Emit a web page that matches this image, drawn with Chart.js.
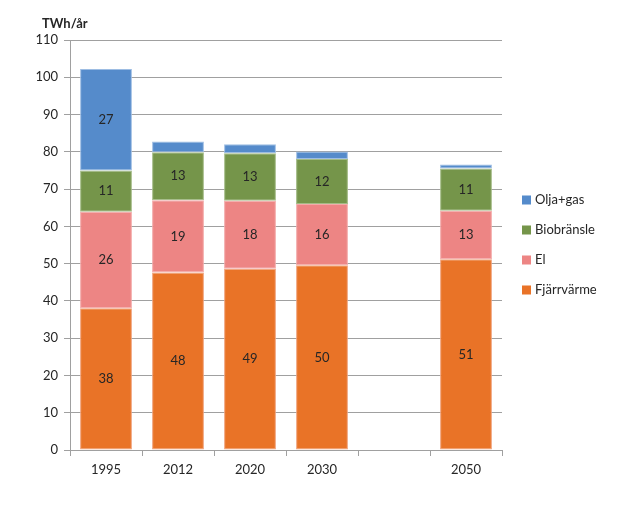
<!DOCTYPE html>
<html>
<head>
<meta charset="utf-8">
<script src="https://cdn.jsdelivr.net/npm/chart.js@4/dist/chart.umd.min.js"></script>
<style>
  html, body { margin: 0; padding: 0; background: #fff; }
  #wrap { width: 630px; height: 506px; }
</style>
</head>
<body>
<div id="wrap"><canvas id="chart" width="630" height="506"></canvas></div>
<script>
const years = ["1995", "2012", "2020", "2030", "", "2050"]
const fjarrvarme = [38.0, 47.6, 48.6, 49.6, null, 51.2]
const el = [25.9, 19.4, 18.3, 16.4, null, 13.0]
const biobransle = [11.1, 12.9, 12.7, 12.1, null, 11.3]
const oljaGas = [27.2, 2.9, 2.4, 2.0, null, 1.1]
const yTicks = { min: 0, max: 110, step: 10 }

const FONT = "Lato, 'Open Sans', sans-serif"
const AXIS_GREY = "#a0a0a0"

function whiteBackgroundPlugin() {
    return {
        id: "whiteBackground",
        beforeDraw: (chart) => {
            const { ctx, canvas } = chart
            ctx.save()
            ctx.globalCompositeOperation = "destination-over"
            ctx.fillStyle = "white"
            ctx.fillRect(0, 0, canvas.width, canvas.height)
            ctx.restore()
        }
    }
}

// numbers inside the segments, only where there is room
function segmentLabelsPlugin() {
    return {
        id: "segmentLabels",
        afterDatasetsDraw: (chart) => {
            const { ctx } = chart
            ctx.save()
            ctx.font = "13px " + FONT
            ctx.fillStyle = "#262626"
            ctx.textAlign = "center"
            ctx.textBaseline = "middle"
            chart.data.datasets.forEach((ds, i) => {
                const meta = chart.getDatasetMeta(i)
                meta.data.forEach((bar, j) => {
                    const v = ds.data[j]
                    if (v == null || v < 5) return
                    ctx.fillText(String(Math.round(v)), bar.x, (bar.y + bar.base) / 2)
                })
            })
            ctx.restore()
        }
    }
}

// unit text above the y axis + legend on the right (reversed like the stack)
function titleAndLegendPlugin() {
    return {
        id: "titleAndLegend",
        afterDraw: (chart) => {
            const { ctx, chartArea } = chart
            ctx.save()
            ctx.font = "bold 13px " + FONT
            ctx.fillStyle = "#262626"
            ctx.textBaseline = "middle"
            ctx.textAlign = "left"
            ctx.fillText("TWh/år", 42, 24)

            const items = chart.data.datasets.slice().reverse()
            const mid = (chartArea.top + chartArea.bottom) / 2
            const gap = 30
            const top = mid - gap * (items.length - 1) / 2
            ctx.font = "13px " + FONT
            items.forEach((ds, k) => {
                const y = top + k * gap
                ctx.fillStyle = ds.backgroundColor
                ctx.fillRect(522, y - 4.5, 9, 9)
                ctx.fillStyle = "#262626"
                ctx.fillText(ds.label, 535, y)
            })
            ctx.restore()
        }
    }
}

const barStyle = { barPercentage: 0.72, categoryPercentage: 1, borderWidth: 1, borderSkipped: false }

new Chart(document.getElementById("chart").getContext("2d"), {
    type: "bar",
    data: {
        labels: years,
        datasets: [
            { label: "Fjärrvärme", data: fjarrvarme, backgroundColor: "#e97327", borderColor: "#f0a07a", ...barStyle },
            { label: "El", data: el, backgroundColor: "#ed8584", borderColor: "#f3a9a8", ...barStyle },
            { label: "Biobränsle", data: biobransle, backgroundColor: "#75954a", borderColor: "#a3bb85", ...barStyle },
            { label: "Olja+gas", data: oljaGas, backgroundColor: "#558bcb", borderColor: "#9dbde3", ...barStyle }
        ]
    },
    options: {
        responsive: false,
        animation: false,
        layout: { padding: { top: 40, right: 128, left: 0, bottom: 0 } },
        plugins: {
            legend: { display: false },
            tooltip: { enabled: false }
        },
        scales: {
            x: {
                stacked: true,
                grid: {
                    offset: true,
                    drawOnChartArea: false,
                    drawTicks: true,
                    tickLength: 6,
                    color: AXIS_GREY
                },
                border: { color: AXIS_GREY },
                ticks: { color: "#262626", font: { family: FONT, size: 13 }, padding: 6, maxRotation: 0 },
                afterFit: (scale) => { scale.height = 56 }
            },
            y: {
                stacked: true,
                min: yTicks.min,
                max: yTicks.max,
                grid: { color: AXIS_GREY, tickLength: 6 },
                border: { color: AXIS_GREY },
                ticks: { stepSize: yTicks.step, color: "#262626", font: { family: FONT, size: 13 }, padding: 6 },
                afterFit: (scale) => { scale.width = 70 }
            }
        }
    },
    plugins: [whiteBackgroundPlugin(), segmentLabelsPlugin(), titleAndLegendPlugin()]
})
</script>
</body>
</html>
